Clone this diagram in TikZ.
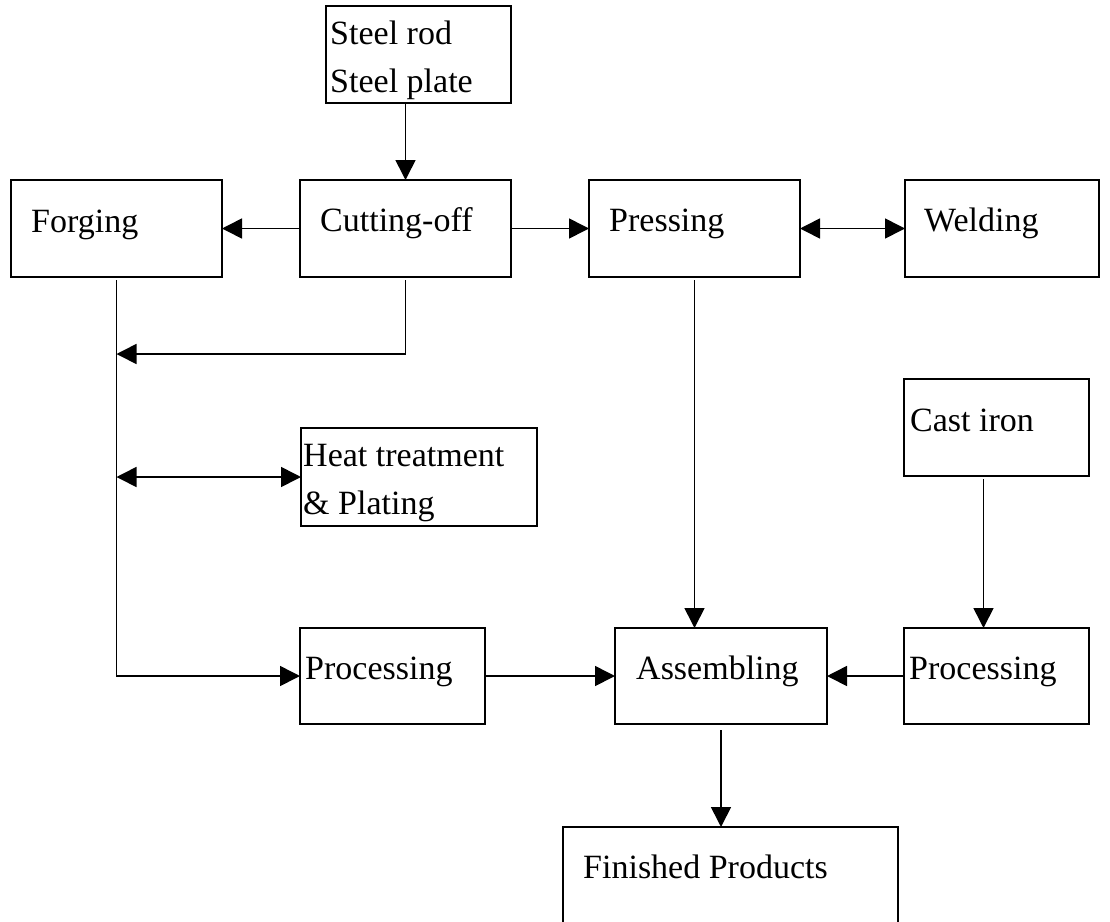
\documentclass[tikz,border=0pt]{standalone}
\usepackage{fontspec}
\setmainfont{Liberation Serif}
\usetikzlibrary{arrows.meta}
\begin{document}
\begin{tikzpicture}[x=1pt,y=-1pt,
  blk/.style={draw, line width=1.6pt, inner sep=0pt, outer sep=0pt, anchor=north west},
  lbl/.style={anchor=base west, inner sep=0pt, font=\fontsize{34}{34}\selectfont},
  link/.style={line width=1.6pt},
  arr/.style={link, -{Triangle[length=20pt,width=20pt]}},
  arrboth/.style={link, {Triangle[length=20pt,width=20pt]}-{Triangle[length=20pt,width=20pt]}}]
\useasboundingbox (0,0) rectangle (1110,921);
\clip (0,0) rectangle (1110,921);

% process boxes
\node[blk, minimum width=185pt, minimum height=97pt] (steel) at (326,6) {};
\node[blk, minimum width=211pt, minimum height=97pt] (forge) at (11,180) {};
\node[blk, minimum width=211pt, minimum height=97pt] (cut) at (300,180) {};
\node[blk, minimum width=211pt, minimum height=97pt] (press) at (589,180) {};
\node[blk, minimum width=194pt, minimum height=97pt] (weld) at (905,180) {};
\node[blk, minimum width=236pt, minimum height=98pt] (heat) at (301,428) {};
\node[blk, minimum width=185pt, minimum height=97pt] (cast) at (904,379) {};
\node[blk, minimum width=185pt, minimum height=96pt] (proc1) at (300,628) {};
\node[blk, minimum width=212pt, minimum height=96pt] (assem) at (615,628) {};
\node[blk, minimum width=185pt, minimum height=96pt] (proc2) at (904,628) {};
\node[blk, minimum width=335pt, minimum height=120pt] (fin) at (563,827) {};

% labels
\node[lbl] (steelA) at (330,44) {Steel rod};
\node[lbl] (steelB) at (330,92) {Steel plate};
\node[lbl] (forgeT) at (31,232) {Forging};
\node[lbl] (cutT) at (320,231) {Cutting-off};
\node[lbl] (pressT) at (609,231) {Pressing};
\node[lbl] (weldT) at (924,231) {Welding};
\node[lbl] (heatA) at (303,466) {Heat treatment};
\node[lbl] (heatB) at (303,514) {\& Plating};
\node[lbl] (castT) at (910,431) {Cast iron};
\node[lbl] (proc1T) at (305,679) {Processing};
\node[lbl] (assemT) at (636,679) {Assembling};
\node[lbl] (proc2T) at (909,679) {Processing};
\node[lbl] (finT) at (583,878) {Finished Products};

% connectors
\coordinate (join) at (116.5,354);
\draw[arr] (steel.south -| cut.north) -- (cut.north);
\draw[arr] (cut.west) -- (forge.east);
\draw[arr] (cut.east) -- (press.west);
\draw[arrboth] (press.east) -- (weld.west);
\draw[arr] ([yshift=-3pt]forge.south) |- (proc1.west);
\draw[arr] ([yshift=-3pt]cut.south) |- (join);
\draw[arrboth] (forge.south |- heat.west) -- (heat.west);
\draw[arr] ([yshift=-3pt]press.south) -- (press.south |- assem.north);
\draw[arr] ([xshift=-13pt,yshift=-3pt]cast.south) -- ([xshift=-13pt]proc2.north);
\draw[arr] (proc1.east) -- (assem.west);
\draw[arr] (proc2.west) -- (assem.east);
\draw[arr] ([yshift=-6pt]assem.south) -- (assem.south |- fin.north);
\end{tikzpicture}
\end{document}
